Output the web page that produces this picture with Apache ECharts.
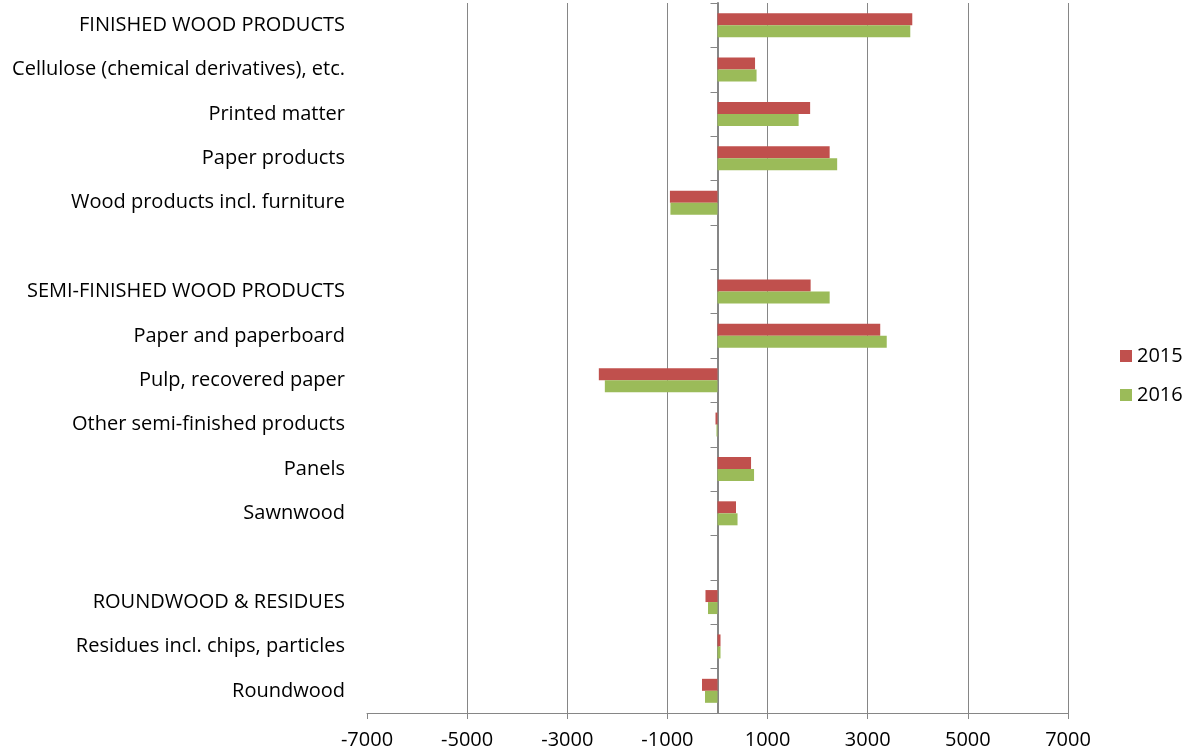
<!DOCTYPE html>
<html>
<head>
<meta charset="utf-8">
<script src="https://cdn.jsdelivr.net/npm/echarts@6/dist/echarts.min.js"></script>
<style>
  html, body { margin: 0; padding: 0; background: #fff; }
  #chart { width: 1186px; height: 753px; }
</style>
</head>
<body>
<div id="chart"></div>
<script>
const categories = [
  'FINISHED WOOD PRODUCTS',
  'Cellulose (chemical derivatives), etc.',
  'Printed matter',
  'Paper products',
  'Wood products incl. furniture',
  '',
  'SEMI-FINISHED WOOD PRODUCTS',
  'Paper and paperboard',
  'Pulp, recovered paper',
  'Other semi-finished products',
  'Panels',
  'Sawnwood',
  '',
  'ROUNDWOOD & RESIDUES',
  'Residues incl. chips, particles',
  'Roundwood'
]
const values2015 = [3890, 750, 1850, 2240, -950, null, 1860, 3250, -2370, -40, 670, 370, null, -240, 60, -310]
const values2016 = [3850, 780, 1620, 2390, -940, null, 2240, 3380, -2250, -20, 730, 400, null, -190, 60, -250]
const xTicks = [-7000, -5000, -3000, -1000, 1000, 3000, 5000, 7000]

const fontFamily = '"Open Sans", sans-serif'
const axisGrey = '#868686'

const chart = echarts.init(document.getElementById('chart'))

const option = {
  animation: false,
  textStyle: { fontFamily: fontFamily, color: '#000' },
  grid: { left: 367, right: 118, top: 3, bottom: 40, containLabel: false },
  legend: {
    orient: 'vertical',
    left: 1120,
    top: 346,
    padding: 0,
    itemWidth: 12,
    itemHeight: 12,
    itemGap: 19,
    icon: 'rect',
    textStyle: { fontSize: 20, color: '#000', fontFamily: fontFamily },
    data: ['2015', '2016']
  },
  xAxis: {
    type: 'value',
    min: -7000,
    max: 7000,
    interval: 2000,
    axisLine: { show: true, onZero: false, lineStyle: { color: axisGrey, width: 1 } },
    axisTick: { show: true, length: 6, lineStyle: { color: axisGrey } },
    axisLabel: {
      fontSize: 20,
      color: '#000',
      margin: 17,
      formatter: (v) => (xTicks.includes(v) ? String(v) : '')
    },
    splitLine: {
      show: true,
      lineStyle: {
        color: ['rgba(0,0,0,0)', axisGrey, axisGrey, axisGrey, axisGrey, axisGrey, axisGrey, axisGrey],
        width: 1
      }
    }
  },
  yAxis: [
    {
      type: 'category',
      inverse: true,
      data: categories,
      position: 'left',
      axisLine: { show: false, onZero: false },
      axisTick: { show: false },
      axisLabel: { fontSize: 20, color: '#000', margin: 22 },
      splitLine: { show: false }
    },
    {
      // zero line with category ticks
      type: 'category',
      inverse: true,
      data: categories,
      position: 'left',
      axisLine: { show: true, onZero: true, lineStyle: { color: axisGrey, width: 2 } },
      axisTick: { show: true, length: 7, lineStyle: { color: axisGrey } },
      axisLabel: { show: false },
      splitLine: { show: false }
    }
  ],
  series: [
    {
      name: '2015',
      type: 'bar',
      yAxisIndex: 0,
      data: values2015,
      barWidth: 12,
      barGap: '0%',
      itemStyle: { color: '#C0504D' }
    },
    {
      name: '2016',
      type: 'bar',
      yAxisIndex: 0,
      data: values2016,
      barWidth: 12,
      barGap: '0%',
      itemStyle: { color: '#9BBB59' }
    }
  ]
}

chart.setOption(option)
window.addEventListener('resize', () => {
  chart.resize()
})
</script>
</body>
</html>
